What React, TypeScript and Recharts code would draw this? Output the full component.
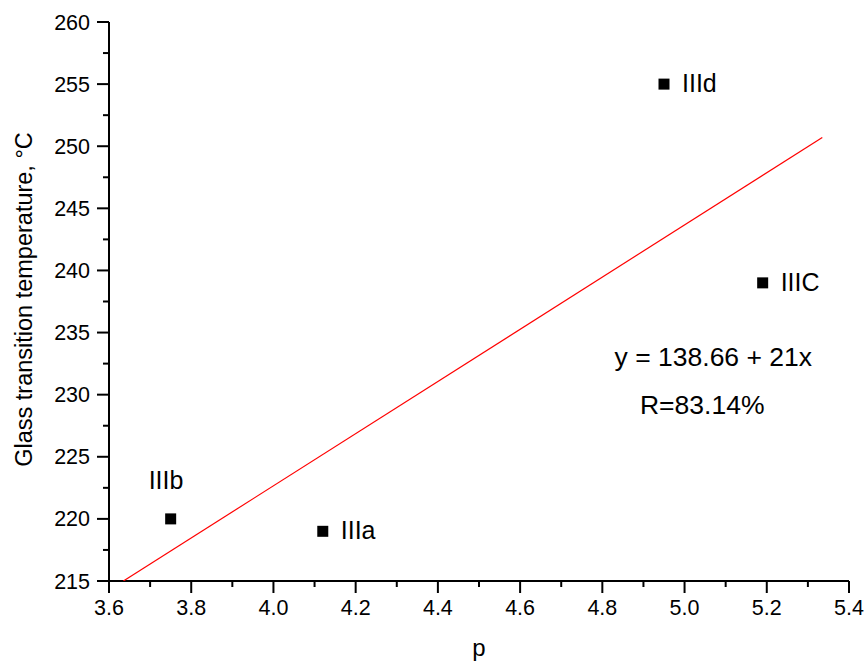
import React from "react"
import {
  ScatterChart, Scatter, XAxis, YAxis, Label, ReferenceDot
} from "recharts"

// measured samples
const sampleNames = ["IIIb", "IIIa", "IIId", "IIIC"]
const sampleP = [3.75, 4.12, 4.95, 5.19]
const sampleTg = [220, 219, 255, 239]

// linear fit y = 138.66 + 21x, drawn across the plotted range
const fitP = [3.635, 5.335]
const fitTg = [215.0, 250.7]

const xTicks = [3.6, 3.7, 3.8, 3.9, 4.0, 4.1, 4.2, 4.3, 4.4, 4.5, 4.6, 4.7, 4.8, 4.9, 5.0, 5.1, 5.2, 5.3, 5.4]
const yTicks = [215, 217.5, 220, 222.5, 225, 227.5, 230, 232.5, 235, 237.5, 240, 242.5, 245, 247.5, 250, 252.5, 255, 257.5, 260]

const fitText = "y = 138.66 + 21x"
const rText = "R=83.14%"

const samples = sampleNames.map((name, i) => ({ name, p: sampleP[i], t: sampleTg[i] }))
const fitLine = fitP.map((p, i) => ({ p, t: fitTg[i] }))

const FONT = "'Liberation Sans', Arial, sans-serif"

const YTick = (props: any) => {
  const { x, y, payload } = props
  const major = payload.value % 5 === 0
  return (
    <g>
      <line x1={x - (major ? 12 : 6)} x2={x} y1={y} y2={y} stroke="#000" strokeWidth={2} />
      {major && (
        <text x={x - 19} y={y} dy={7.5} textAnchor="end" fontSize={21.5} fill="#000" fontFamily={FONT}>
          {payload.value}
        </text>
      )}
    </g>
  )
}

const XTick = (props: any) => {
  const { x, y, payload } = props
  const major = Math.round(payload.value * 10) % 2 === 0
  return (
    <g>
      <line x1={x} x2={x} y1={y} y2={y + (major ? 12 : 6)} stroke="#000" strokeWidth={2} />
      {major && (
        <text x={x} y={y + 34} textAnchor="middle" fontSize={21.5} fill="#000" fontFamily={FONT}>
          {payload.value.toFixed(1)}
        </text>
      )}
    </g>
  )
}

const SampleMark = (props: any) => {
  const { cx, cy, payload } = props
  const above = payload.name === "IIIb"
  return (
    <g>
      <rect x={cx - 5.5} y={cy - 5.5} width={11} height={11} fill="#000" />
      <text
        x={above ? cx - 22 : cx + 18}
        y={above ? cy - 30 : cy + 8}
        fontSize={25}
        fill="#000"
        fontFamily={FONT}
      >
        {payload.name}
      </text>
    </g>
  )
}

export default function App() {
  return (
    <div style={{ position: "absolute", left: 0, top: 0, background: "#fff" }}>
      <ScatterChart width={866} height={663} margin={{ top: 22, right: 17, left: 0, bottom: 0 }}>
        <XAxis
          type="number"
          dataKey="p"
          domain={[3.6, 5.4]}
          ticks={xTicks}
          interval={0}
          height={82}
          tickSize={0}
          tickMargin={0}
          tickLine={false}
          axisLine={{ stroke: "#000", strokeWidth: 2 }}
          tick={<XTick />}
          allowDataOverflow
        >
          <Label
            content={(props: any) => {
              const vb = props.viewBox
              return (
                <text x={vb.x + vb.width / 2} y={656} textAnchor="middle" fontSize={24} fill="#000" fontFamily={FONT}>
                  p
                </text>
              )
            }}
          />
        </XAxis>
        <YAxis
          type="number"
          dataKey="t"
          domain={[215, 260]}
          ticks={yTicks}
          interval={0}
          width={109}
          tickSize={0}
          tickMargin={0}
          tickLine={false}
          axisLine={{ stroke: "#000", strokeWidth: 2 }}
          tick={<YTick />}
          allowDataOverflow
        >
          <Label
            content={(props: any) => {
              const vb = props.viewBox
              const cy = vb.y + vb.height / 2 - 2
              return (
                <text
                  x={32}
                  y={cy}
                  transform={`rotate(-90, 32, ${cy})`}
                  textAnchor="middle"
                  fontSize={23.5}
                  fill="#000"
                  fontFamily={FONT}
                >
                  Glass transition temperature, °C
                </text>
              )
            }}
          />
        </YAxis>
        <Scatter
          data={fitLine}
          line={{ stroke: "#ff0000", strokeWidth: 1.2 }}
          shape={() => <g />}
          isAnimationActive={false}
        />
        <Scatter data={samples} shape={<SampleMark />} isAnimationActive={false} />
        <ReferenceDot
          x={5.07}
          y={233.1}
          r={0}
          fill="none"
          stroke="none"
          label={{ value: fitText, position: "center", fontSize: 26.5, fill: "#000", fontFamily: FONT }}
        />
        <ReferenceDot
          x={5.043}
          y={229.2}
          r={0}
          fill="none"
          stroke="none"
          label={{ value: rText, position: "center", fontSize: 26.5, fill: "#000", fontFamily: FONT }}
        />
      </ScatterChart>
    </div>
  )
}
